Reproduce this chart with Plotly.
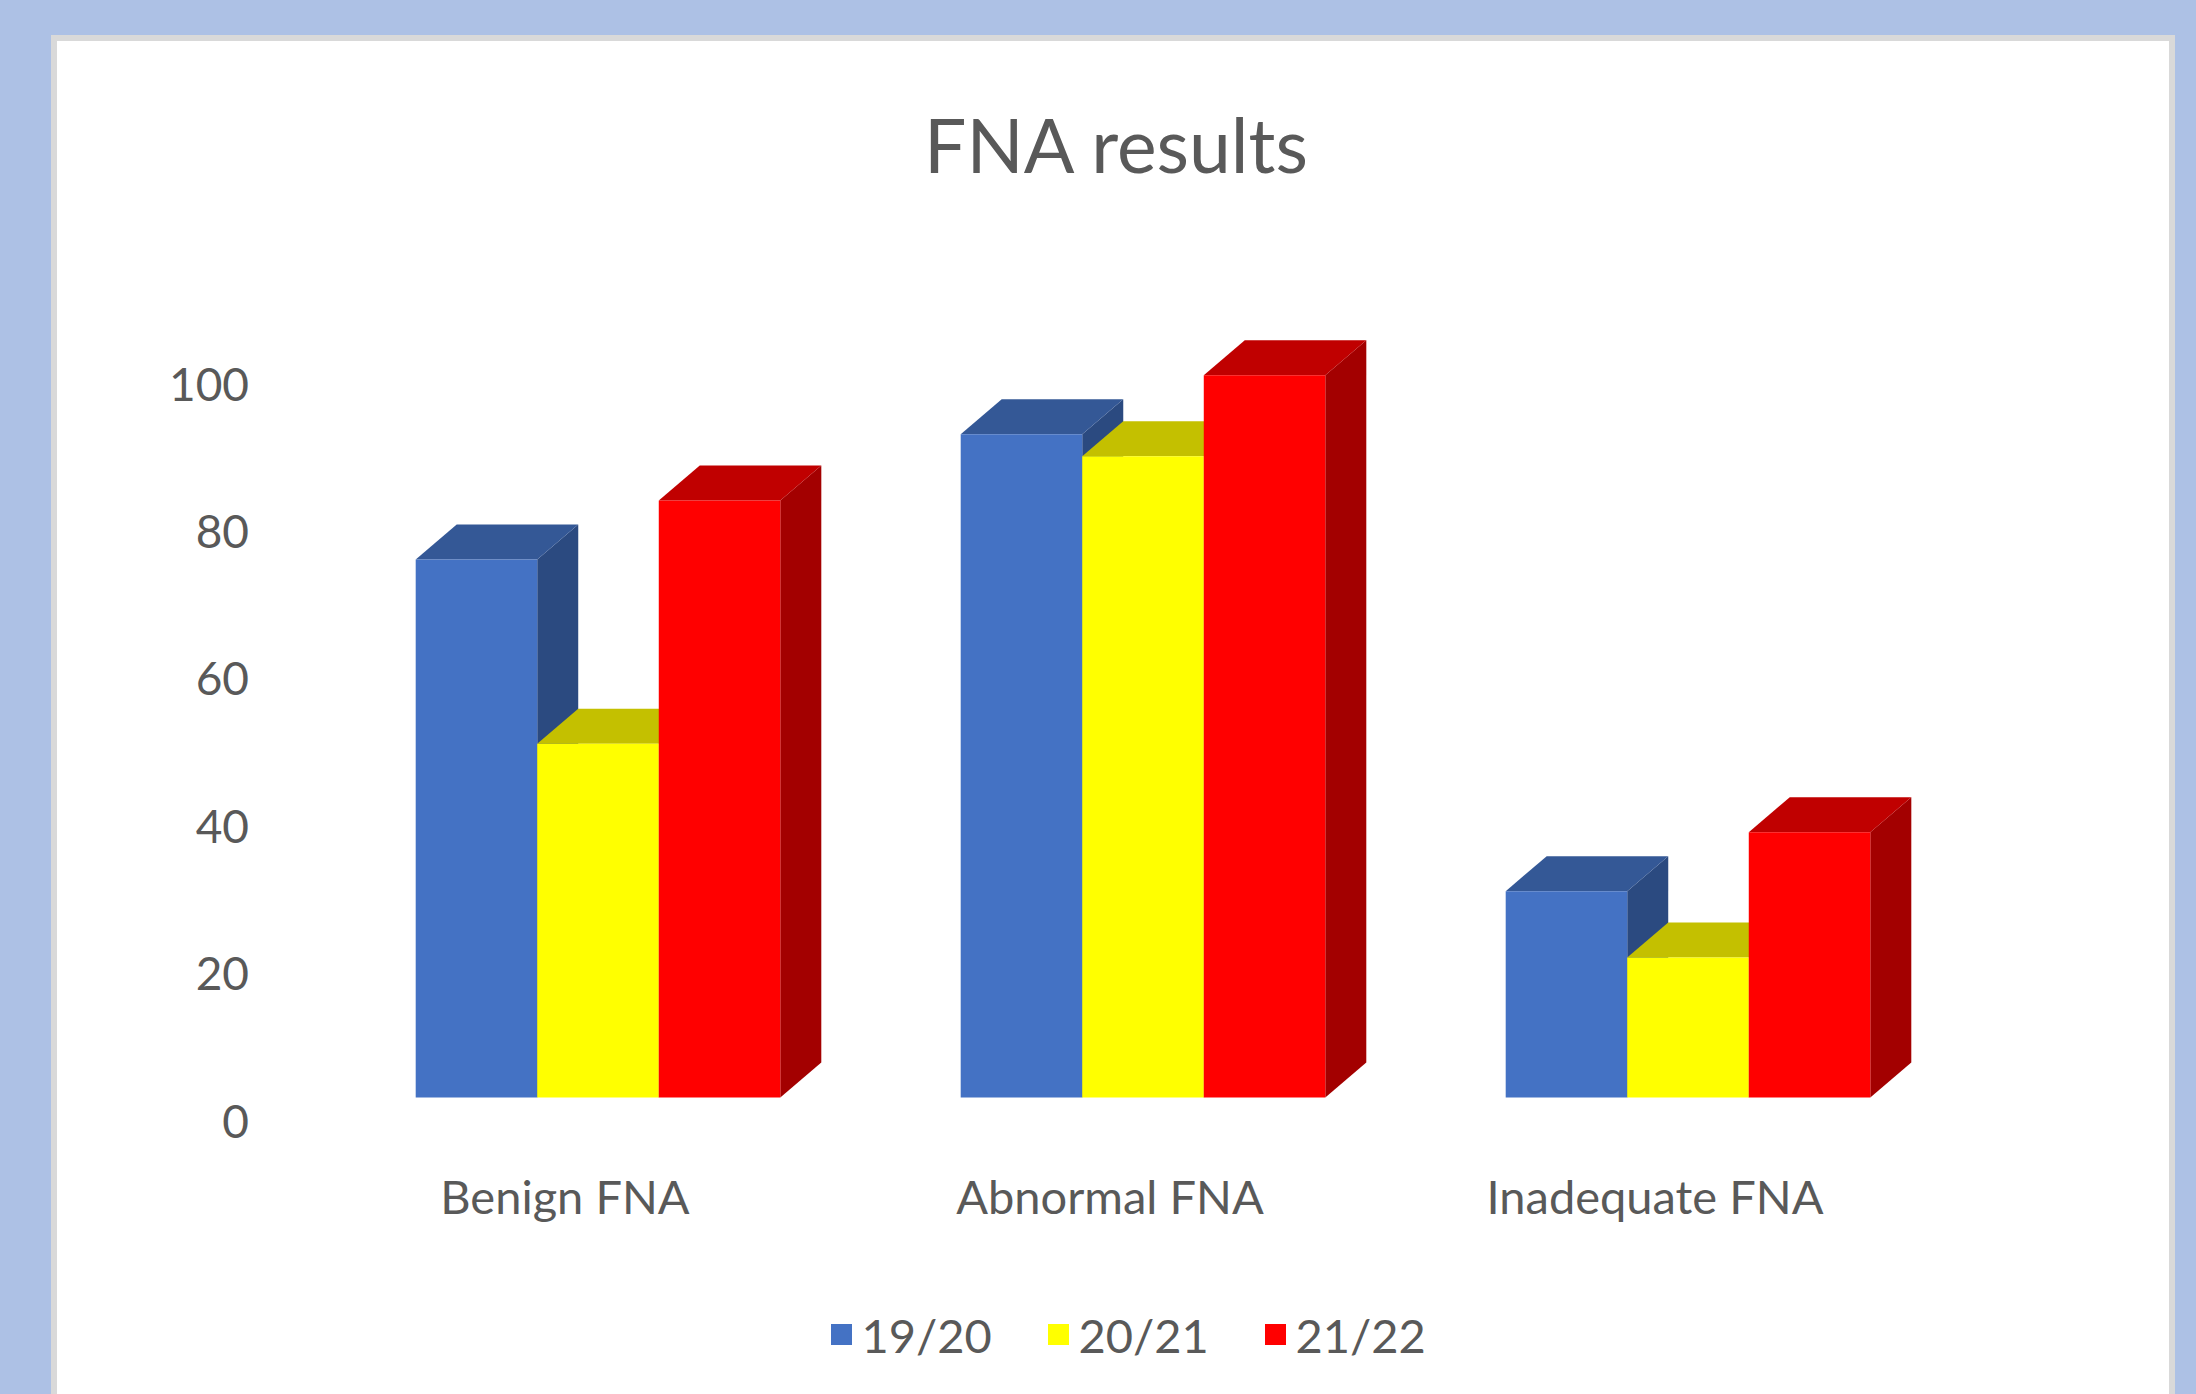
import plotly.graph_objects as go

# ---------------- data ----------------
categories = ["Benign FNA", "Abnormal FNA", "Inadequate FNA"]
series_names = ["19/20", "20/21", "21/22"]
values_1920 = [73, 90, 28]
values_2021 = [48, 87, 19]
values_2122 = [81, 98, 36]
y_tick_values = [0, 20, 40, 60, 80, 100]
series_values = [values_1920, values_2021, values_2122]

# ---------------- style ----------------
front_colors = ["#4472C4", "#FFFF00", "#FF0000"]
top_colors = ["#345896", "#C4C000", "#C00000"]
side_colors = ["#2B4A80", "#A6A600", "#A30000"]
text_color = "#595959"
font_family = "Lato, 'Open Sans', sans-serif"

W, H = 2196, 1394
L, R, T, B = 250, 96, 200, 294
plot_w = W - L - R
plot_h = H - T - B

px_per_cat = 545.0
px_per_unit = 7.37
x0_px = 598.0
y0_px = 1097.5
x_range = [(L - x0_px) / px_per_cat, (W - R - x0_px) / px_per_cat]
y_range = [(y0_px - (H - B)) / px_per_unit, (y0_px - T) / px_per_unit]

bargap = 0.331
bw = (1 - bargap) / 3
depth_dx = 41 / px_per_cat
depth_dy = 35 / px_per_unit

fig = go.Figure()

# 3D side and top faces (drawn left to right for correct overlap)
for i in range(len(categories)):
    for j, vals in enumerate(series_values):
        v = vals[i]
        left = i - 1.5 * bw + j * bw
        right = left + bw
        # side face
        fig.add_trace(go.Scatter(
            x=[right, right + depth_dx, right + depth_dx, right, right],
            y=[0, depth_dy, v + depth_dy, v, 0],
            fill="toself", fillcolor=side_colors[j], mode="lines",
            line=dict(width=0, color=side_colors[j]),
            showlegend=False, hoverinfo="skip", xaxis="x", yaxis="y"))
        # top face
        fig.add_trace(go.Scatter(
            x=[left, right, right + depth_dx, left + depth_dx, left],
            y=[v, v, v + depth_dy, v + depth_dy, v],
            fill="toself", fillcolor=top_colors[j], mode="lines",
            line=dict(width=0, color=top_colors[j]),
            showlegend=False, hoverinfo="skip", xaxis="x", yaxis="y"))

# front faces as real bars on an overlaying axis pair (drawn above faces)
for j, vals in enumerate(series_values):
    fig.add_trace(go.Bar(
        x=list(range(len(categories))), y=vals, name=series_names[j],
        width=bw, offset=-1.5 * bw + j * bw,
        marker=dict(color=front_colors[j], line=dict(width=0)),
        showlegend=False, xaxis="x2", yaxis="y2",
        hovertemplate="%{y}<extra>" + series_names[j] + "</extra>"))

# legend entries
for j, name in enumerate(series_names):
    fig.add_trace(go.Scatter(
        x=[None], y=[None], mode="markers", name=name,
        marker=dict(symbol="square", size=16, color=front_colors[j],
                    line=dict(width=5, color=front_colors[j])),
        showlegend=True, xaxis="x", yaxis="y"))


def px_to_paper_x(px):
    return (px - L) / plot_w


def px_to_paper_y(py):
    return (H - B - py) / plot_h


panel_line = 6
fig.add_shape(type="rect", xref="paper", yref="paper",
              x0=px_to_paper_x(51 + panel_line / 2), x1=px_to_paper_x(2175 - panel_line / 2),
              y0=px_to_paper_y(1420), y1=px_to_paper_y(35 + panel_line / 2),
              fillcolor="white", line=dict(color="#D9D9D9", width=panel_line),
              layer="below")

axis_common = dict(showgrid=False, zeroline=False, showline=False, ticks="")
fig.update_layout(
    width=W, height=H,
    margin=dict(l=L, r=R, t=T, b=B, pad=0),
    paper_bgcolor="#ADC1E5",
    plot_bgcolor="rgba(0,0,0,0)",
    font=dict(family=font_family, color=text_color),
    title=dict(text="FNA results", font=dict(size=75, color=text_color, family=font_family),
               x=1116 / W, xanchor="center", xref="container",
               y=1 - 147 / H, yanchor="middle", yref="container"),
    xaxis=dict(range=x_range, tickvals=list(range(len(categories))), ticktext=categories,
               tickfont=dict(size=47, color=text_color), ticklabelshift=-33,
               ticklabelstandoff=66, fixedrange=True, **axis_common),
    yaxis=dict(range=y_range, tickvals=y_tick_values, tickfont=dict(size=46, color=text_color),
               ticklabelshift=24, fixedrange=True, **axis_common),
    xaxis2=dict(range=x_range, overlaying="x", visible=False, fixedrange=True, **axis_common),
    yaxis2=dict(range=y_range, overlaying="y", visible=False, fixedrange=True, **axis_common),
    legend=dict(orientation="h", xref="container", yref="container",
                x=1147 / W, xanchor="center", y=1 - 1335 / H, yanchor="middle",
                font=dict(size=47, color=text_color, family=font_family),
                bgcolor="rgba(0,0,0,0)", entrywidth=172, itemsizing="trace"),
    showlegend=True,
)

fig.write_html("out.html", config={"displayModeBar": False},
               post_script="document.body.style.margin='0';")
